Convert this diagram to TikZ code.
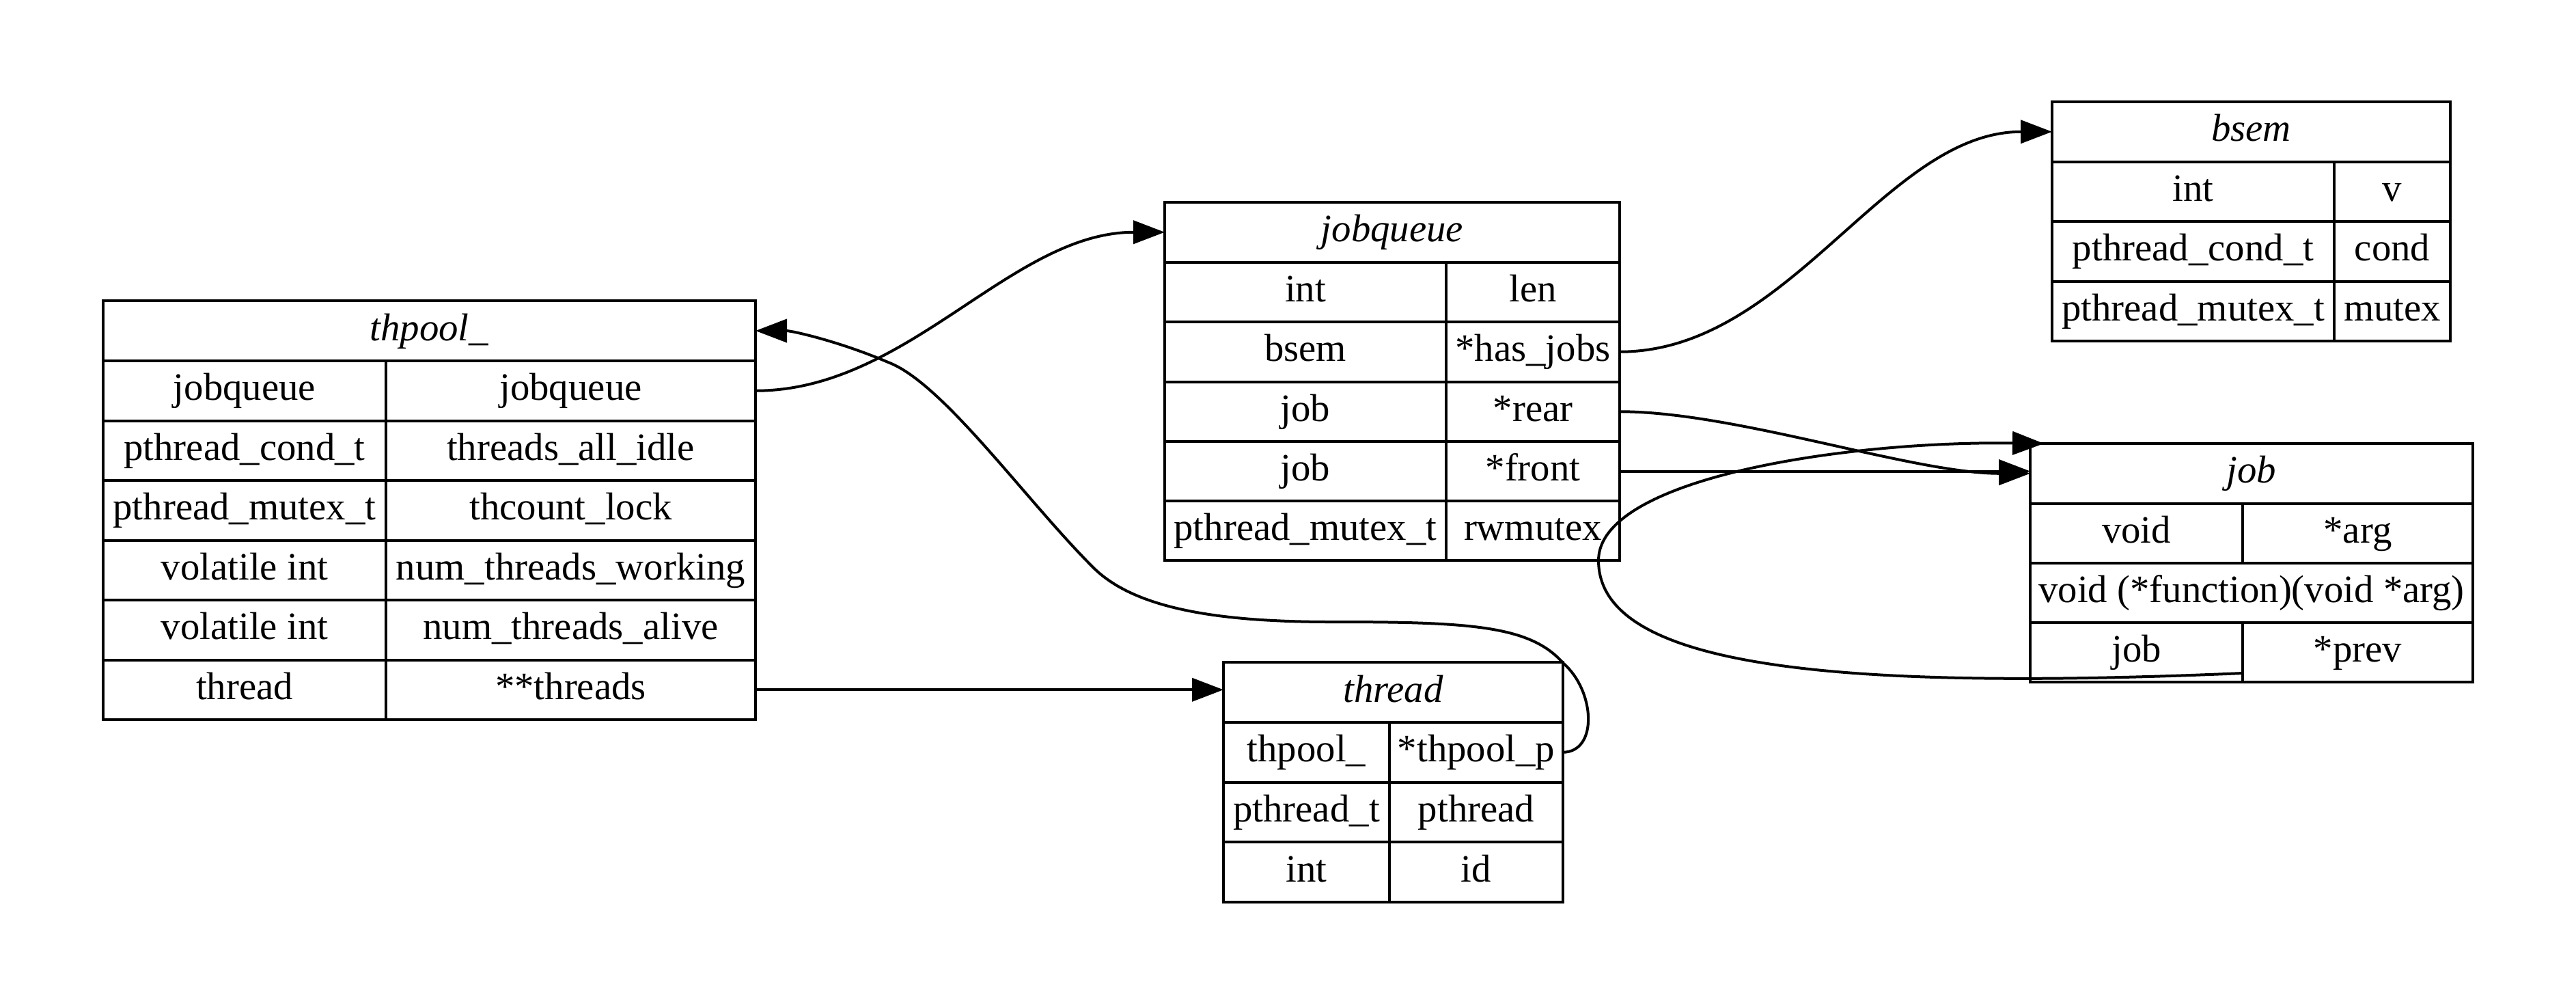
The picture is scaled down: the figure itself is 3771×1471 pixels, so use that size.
\documentclass[tikz,border=0pt]{standalone}
\usepackage{fontspec}
\setmainfont{Liberation Serif}
\usetikzlibrary{arrows.meta}

% one table cell: name, left, top, right, bottom, text
\newcommand\tcell[6]{%
  \pgfmathsetmacro\tcellx{(#2+#4)/2}%
  \pgfmathsetmacro\tcelly{(#3+#5)/2}%
  \pgfmathsetmacro\tcellw{(#4-#2)*0.25}%
  \pgfmathsetmacro\tcellh{(#5-#3)*0.25}%
  \node[cellbox, minimum width=\tcellw pt, minimum height=\tcellh pt]
    (#1) at (\tcellx,\tcelly) {#6};}

\begin{document}
\begin{tikzpicture}[x=0.25pt, y=-0.25pt,
  cellbox/.style={draw, line width=1pt, inner sep=0pt, outer sep=0pt,
    text height=10pt, text depth=3pt, anchor=center,
    font=\fontsize{14.2pt}{17pt}\selectfont},
  link/.style={line width=1pt, -{Triangle[length=11.5pt, width=8.5pt]}},
]
\fill[white] (0,0) rectangle (3771,1471);
\useasboundingbox (0,0) rectangle (3771,1471);

% ---- thpool_ ----
\tcell{tp-h}{151}{440}{1106}{528}{\textit{thpool\_}}
\tcell{tp-t1}{151}{528}{565}{615.5}{jobqueue}
\tcell{tp-jq}{565}{528}{1106}{615.5}{jobqueue}
\tcell{tp-t2}{151}{615.5}{565}{703}{pthread\_cond\_t}
\tcell{tp-idle}{565}{615.5}{1106}{703}{threads\_all\_idle}
\tcell{tp-t3}{151}{703}{565}{790.5}{pthread\_mutex\_t}
\tcell{tp-lock}{565}{703}{1106}{790.5}{thcount\_lock}
\tcell{tp-t4}{151}{790.5}{565}{878}{volatile int}
\tcell{tp-work}{565}{790.5}{1106}{878}{num\_threads\_working}
\tcell{tp-t5}{151}{878}{565}{965.5}{volatile int}
\tcell{tp-alive}{565}{878}{1106}{965.5}{num\_threads\_alive}
\tcell{tp-t6}{151}{965.5}{565}{1053}{thread}
\tcell{tp-thr}{565}{965.5}{1106}{1053}{**threads}

% ---- jobqueue ----
\tcell{jq-h}{1705}{296}{2371}{383.5}{\textit{jobqueue}}
\tcell{jq-t1}{1705}{383.5}{2117}{471}{int}
\tcell{jq-len}{2117}{383.5}{2371}{471}{len}
\tcell{jq-t2}{1705}{471}{2117}{558.5}{bsem}
\tcell{jq-hj}{2117}{471}{2371}{558.5}{*has\_jobs}
\tcell{jq-t3}{1705}{558.5}{2117}{646}{job}
\tcell{jq-rear}{2117}{558.5}{2371}{646}{*rear}
\tcell{jq-t4}{1705}{646}{2117}{733}{job}
\tcell{jq-front}{2117}{646}{2371}{733}{*front}
\tcell{jq-t5}{1705}{733}{2117}{820}{pthread\_mutex\_t}
\tcell{jq-rw}{2117}{733}{2371}{820}{rwmutex}

% ---- bsem ----
\tcell{bs-h}{3004}{149}{3587}{236.5}{\textit{bsem}}
\tcell{bs-t1}{3004}{236.5}{3417}{324}{int}
\tcell{bs-v}{3417}{236.5}{3587}{324}{v}
\tcell{bs-t2}{3004}{324}{3417}{411.5}{pthread\_cond\_t}
\tcell{bs-cond}{3417}{324}{3587}{411.5}{cond}
\tcell{bs-t3}{3004}{411.5}{3417}{499}{pthread\_mutex\_t}
\tcell{bs-mutex}{3417}{411.5}{3587}{499}{mutex}

% ---- job ----
\tcell{jb-h}{2972}{649}{3620}{736.5}{\textit{job}}
\tcell{jb-t1}{2972}{736.5}{3283}{824}{void}
\tcell{jb-arg}{3283}{736.5}{3620}{824}{*arg}
\tcell{jb-fn}{2972}{824}{3620}{911}{void (*function)(void *arg)}
\tcell{jb-t3}{2972}{911}{3283}{998}{job}
\tcell{jb-prev}{3283}{911}{3620}{998}{*prev}

% ---- thread ----
\tcell{th-h}{1791}{969}{2288}{1057}{\textit{thread}}
\tcell{th-t1}{1791}{1057}{2034}{1144.5}{thpool\_}
\tcell{th-p}{2034}{1057}{2288}{1144.5}{*thpool\_p}
\tcell{th-t2}{1791}{1144.5}{2034}{1232}{pthread\_t}
\tcell{th-pt}{2034}{1144.5}{2288}{1232}{pthread}
\tcell{th-t3}{1791}{1232}{2034}{1320}{int}
\tcell{th-id}{2034}{1232}{2288}{1320}{id}

% ---- pointer links ----
\draw[link] (tp-jq.east) .. controls +(224,0) and +(-225,0) .. (jq-h.west);
\draw[link] (jq-hj.east) .. controls +(249,0) and +(-244,0) .. (bs-h.west);
\draw[link] (jq-rear.east) .. controls +(170,0) and +(-172,0) .. (jb-h.west);
\draw[link] (jq-front.east) -- (jq-front.east -| jb-h.west);
\draw[link] (tp-thr.east) -- (tp-thr.east -| th-h.west);
\draw[link] (th-p.east) .. controls (2340,1100) and (2335,1010) .. (2288,970)
  .. controls (2240,915) and (2150,910) .. (1950,910)
  .. controls (1780,910) and (1660,890) .. (1600,830)
  .. controls (1500,730) and (1380,560) .. (1300,530)
  .. controls (1230,500) and (1160,484) .. (tp-h.east);
\draw[link] ([yshift=3.25pt]jb-prev.south west)
  .. controls (2700,1010) and (2340,980) .. (2340,820)
  .. controls (2340,700) and (2700,645) .. ([xshift=5pt]jb-h.north west);
\end{tikzpicture}
\end{document}
